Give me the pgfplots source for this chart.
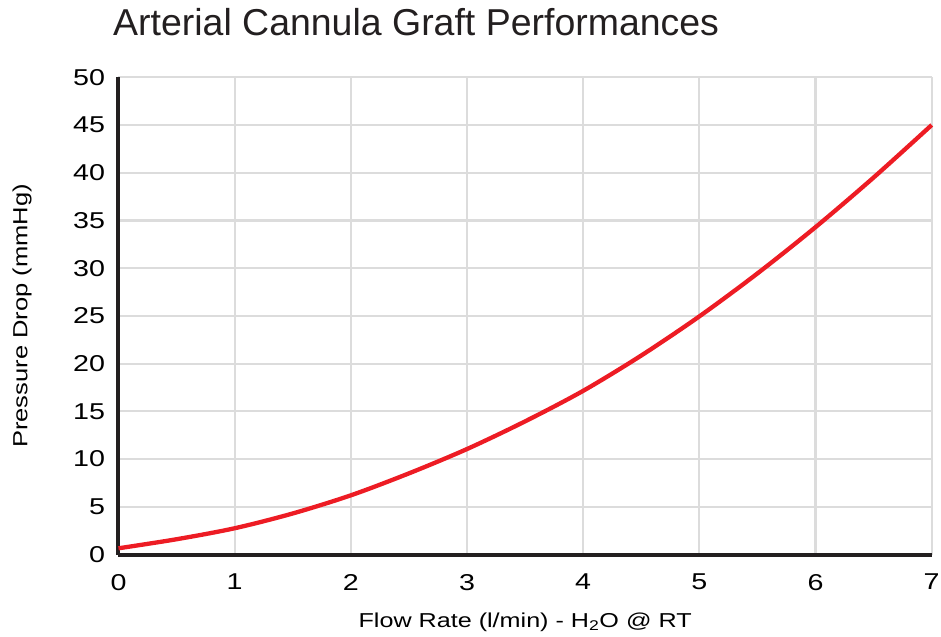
\documentclass[border=0pt]{standalone}
\usepackage{pgfplots}
\pgfplotsset{compat=1.18}
\usepackage{fontspec}
\setmainfont{Liberation Sans}
\newfontfamily\widefont[FakeStretch=1.25]{Liberation Sans}
\definecolor{curvered}{HTML}{ED1C24}
\definecolor{gridgray}{HTML}{DCDCDC}
\definecolor{axisblack}{HTML}{231F20}
\begin{document}
\begin{tikzpicture}
\useasboundingbox (-118.5bp,-82.5bp) rectangle (822.5bp,554.5bp);
\begin{axis}[
  at={(0,0)}, anchor=origin,
  scale only axis,
  width=813.2bp, height=477.2bp,
  xmin=0, xmax=7, ymin=0, ymax=50,
  xtick={0,1,...,7}, ytick={0,5,...,50},
  axis x line=bottom, axis y line=left,
  axis line style={-, line width=4bp, color=axisblack},
  major tick length=0pt,
  grid=major,
  major grid style={line width=2.2bp, color=gridgray},
  /pgf/number format/assume math mode=true,
  ticklabel style={font=\widefont\fontsize{23}{26}\selectfont, text=black},
  xticklabel style={yshift=-16bp},
  yticklabel style={xshift=-10bp},
  xlabel={Flow Rate (l/min) - H\textsubscript{2}O @ RT},
  ylabel={Pressure Drop (mmHg)},
  xlabel style={at={(axis description cs:0.5,0)}, anchor=base, yshift=-73bp, inner sep=0pt, font=\widefont\fontsize{20.2}{24}\selectfont},
  ylabel style={at={([xshift=-91.2bp]axis description cs:0,0.5)}, anchor=base, inner sep=0pt, font=\widefont\fontsize{20.5}{24}\selectfont},
  title={Arterial Cannula Graft Performances},
  title style={at={(axis description cs:0,1)}, anchor=base west, xshift=-5.5bp, yshift=35.6bp, inner sep=0pt, font=\fontsize{37.6}{42}\selectfont, text=axisblack},
  clip=false,
]
\addplot[curvered, line width=4.3bp, smooth] coordinates {
(0,0.65) (0.5,1.6) (1,2.75) (1.5,4.3) (2,6.2) (2.5,8.5) (3,11.05) (3.5,13.95)
(4,17.15) (4.5,20.85) (5,24.95) (5.5,29.45) (6,34.3) (6.5,39.5) (7,45.0)
};
\end{axis}
\end{tikzpicture}
\end{document}
